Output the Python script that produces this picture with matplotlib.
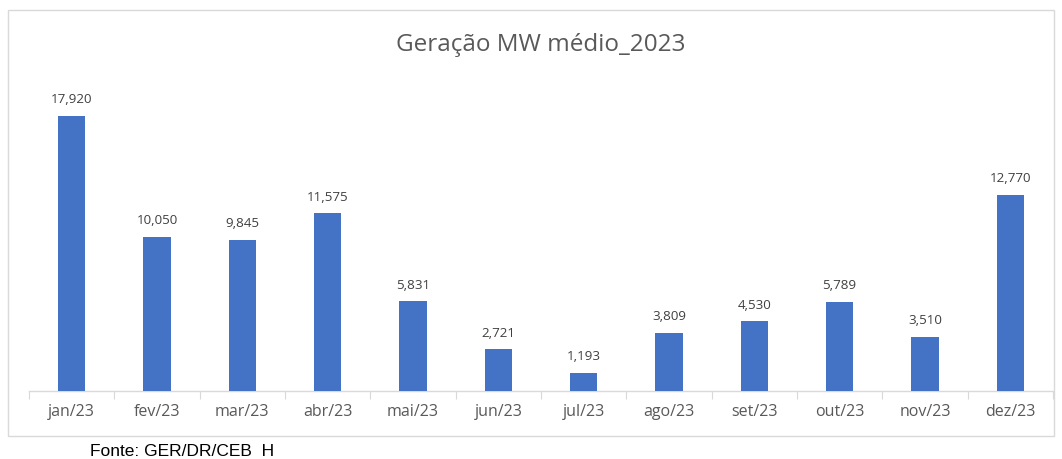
import matplotlib
matplotlib.use("Agg")
import matplotlib.pyplot as plt
from matplotlib.patches import Rectangle

months = ["jan/23", "fev/23", "mar/23", "abr/23", "mai/23", "jun/23",
          "jul/23", "ago/23", "set/23", "out/23", "nov/23", "dez/23"]
values = [17920, 10050, 9845, 11575, 5831, 2721, 1193, 3809, 4530, 5789, 3510, 12770]
title = "Geração MW médio_2023"
source = "Fonte: GER/DR/CEB  H"

W, H = 1062, 459
fig = plt.figure(figsize=(W / 100, H / 100), dpi=100)
fig.patch.set_facecolor("white")

# chart border
fig.patches.append(Rectangle((8 / W, (H - 436) / H), (1054 - 8) / W, (436 - 10) / H,
                             transform=fig.transFigure, fill=False,
                             edgecolor="#D9D9D9", linewidth=1.0))

ax = fig.add_axes([29 / W, (H - 391) / H, (1053 - 29) / W, (391 - 84) / H])
x = list(range(len(months)))
bars = ax.bar(x, values, width=0.32, color="#4472C4", zorder=3)
ax.set_xlim(-0.5, len(months) - 0.5)
ax.set_ylim(0, 20000)
ax.set_yticks([])
for s in ["top", "right", "left"]:
    ax.spines[s].set_visible(False)
ax.spines["bottom"].set_color("#D9D9D9")
ax.spines["bottom"].set_linewidth(1.0)
ax.set_xticks([i - 0.5 for i in range(len(months) + 1)], minor=False)
ax.set_xticklabels([])
ax.tick_params(axis="x", which="major", length=6, color="#D9D9D9", direction="out")
ax.set_xticks(x, minor=True)
ax.set_xticklabels(months, minor=True, fontsize=11.5, color="#595959", family="Open Sans")
ax.tick_params(axis="x", which="minor", length=0, pad=9)

for xi, v in zip(x, values):
    ax.annotate(f"{v:,}", (xi, v), xytext=(0, 7), textcoords="offset points",
                ha="center", va="bottom", fontsize=9.6, color="#404040", family="Open Sans")

fig.text(541 / W, 1 - 45 / H, title, ha="center", va="center", fontsize=17.5,
         color="#595959", family="Open Sans")
fig.text(90 / W, 1 - 452 / H, source, ha="left", va="center", fontsize=12.5,
         color="black", family=["Liberation Sans Narrow", "Liberation Sans"])

fig.savefig("out.png", dpi=100)
